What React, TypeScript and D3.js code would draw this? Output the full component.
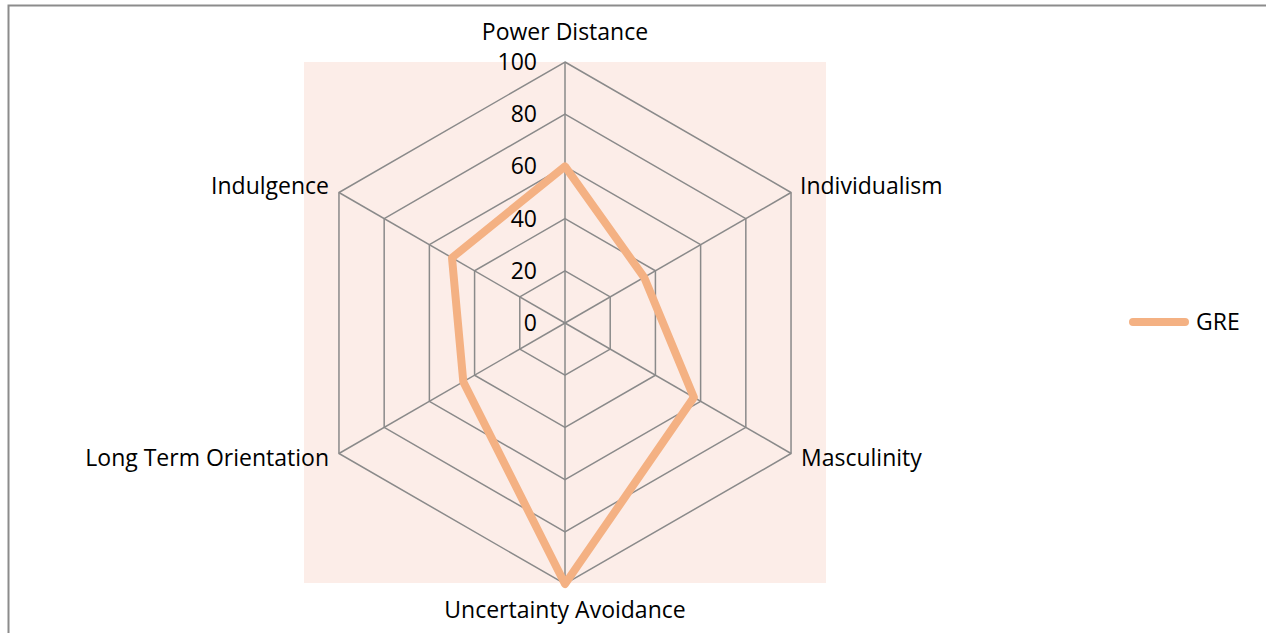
import { useRef, useEffect } from 'react';
import { select, scaleLinear, range, lineRadial, curveLinearClosed } from 'd3';

// Chart data
const dimensions = [
    'Power Distance',
    'Individualism',
    'Masculinity',
    'Uncertainty Avoidance',
    'Long Term Orientation',
    'Indulgence',
];
const greValues = [60, 35, 57, 100, 45, 50];
const seriesName = 'GRE';
const tickValues = [0, 20, 40, 60, 80, 100];

function App() {
    const graphRef = useRef<SVGSVGElement | null>(null);

    // Set dimensions
    const width = 1266;
    const height = 633;
    const cx = 565;
    const cy = 323;
    const radius = 261;
    const font = '"Open Sans", Lato, sans-serif';
    const fontSize = '23px';

    const rScale = scaleLinear().domain([0, 100]).range([0, radius]);
    const angle = (i: number) => (i * 2 * Math.PI) / dimensions.length;
    const px = (i: number, v: number) => cx + rScale(v) * Math.sin(angle(i));
    const py = (i: number, v: number) => cy - rScale(v) * Math.cos(angle(i));

    useEffect(() => {
        const svg = select(graphRef.current);
        svg.selectAll('*').remove();

        // Outer frame
        svg.append('path')
            .attr('d', `M8.5,${height} L8.5,5.5 L${width},5.5`)
            .attr('fill', 'none')
            .attr('stroke', '#8c8c8c')
            .attr('stroke-width', 2);

        // Plot area background
        svg.append('rect')
            .attr('x', 304)
            .attr('y', 62)
            .attr('width', 522)
            .attr('height', 521)
            .attr('fill', '#fcede8');

        const g = svg.append('g');

        // Grid hexagons
        g.selectAll('polygon.grid')
            .data(tickValues.slice(1))
            .join('polygon')
            .attr('class', 'grid')
            .attr('points', (t) => dimensions.map((_, i) => `${px(i, t)},${py(i, t)}`).join(' '))
            .attr('fill', 'none')
            .attr('stroke', '#8a8a8a')
            .attr('stroke-width', 1.5);

        // Spokes
        g.selectAll('line.spoke')
            .data(range(dimensions.length))
            .join('line')
            .attr('class', 'spoke')
            .attr('x1', cx)
            .attr('y1', cy)
            .attr('x2', (i) => px(i, 100))
            .attr('y2', (i) => py(i, 100))
            .attr('stroke', '#8a8a8a')
            .attr('stroke-width', 1.5);

        // Tick labels
        g.selectAll('text.tick')
            .data(tickValues)
            .join('text')
            .attr('class', 'tick')
            .attr('x', cx - 28)
            .attr('y', (t) => cy - rScale(t))
            .attr('dy', '0.35em')
            .attr('text-anchor', 'end')
            .style('font-family', font)
            .style('font-size', fontSize)
            .style('fill', '#000')
            .text((t) => t);

        // Series line
        const radial = lineRadial<number>()
            .angle((_, i) => angle(i))
            .radius((d) => rScale(d))
            .curve(curveLinearClosed);
        g.append('path')
            .attr('transform', `translate(${cx},${cy})`)
            .attr('d', radial(greValues))
            .attr('fill', 'none')
            .attr('stroke', '#f4b183')
            .attr('stroke-width', 8)
            .attr('stroke-linejoin', 'round');

        // Category labels
        const labelPos = [
            { x: cx, y: 32, anchor: 'middle' },
            { x: 800, y: 186, anchor: 'start' },
            { x: 801, y: 458, anchor: 'start' },
            { x: cx, y: 610, anchor: 'middle' },
            { x: 329, y: 458, anchor: 'end' },
            { x: 329, y: 186, anchor: 'end' },
        ];
        g.selectAll('text.cat')
            .data(dimensions)
            .join('text')
            .attr('class', 'cat')
            .attr('x', (_, i) => labelPos[i].x)
            .attr('y', (_, i) => labelPos[i].y)
            .attr('dy', '0.35em')
            .attr('text-anchor', (_, i) => labelPos[i].anchor)
            .style('font-family', font)
            .style('font-size', fontSize)
            .style('fill', '#000')
            .text((d) => d);

        // Legend
        const legend = svg.append('g').attr('transform', 'translate(1129,322)');
        legend.append('line')
            .attr('x1', 4)
            .attr('x2', 56)
            .attr('y1', 0)
            .attr('y2', 0)
            .attr('stroke', '#f4b183')
            .attr('stroke-width', 8)
            .attr('stroke-linecap', 'round');
        legend.append('text')
            .attr('x', 67)
            .attr('y', 0)
            .attr('dy', '0.35em')
            .style('font-family', font)
            .style('font-size', fontSize)
            .style('fill', '#000')
            .text(seriesName);
    }, []);

    return (
        <div style={{ position: 'absolute', left: 0, top: 0 }}>
            <svg ref={graphRef} width={width} height={height} viewBox={`0 0 ${width} ${height}`}></svg>
        </div>
    );
}

export default App;
